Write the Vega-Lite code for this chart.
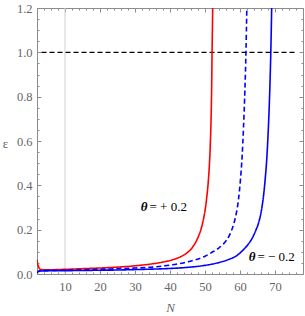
{
  "$schema": "https://vega.github.io/schema/vega-lite/v6.json",
  "width": 266,
  "height": 266,
  "autosize": {"type": "none"},
  "padding": {"left": 37, "top": 8, "right": 2, "bottom": 42},
  "config": {
    "view": {"stroke": null},
    "font": "Liberation Serif",
    "axis": {
      "grid": false,
      "domainColor": "#8c8c8c",
      "tickColor": "#8c8c8c",
      "labelColor": "#666666",
      "labelFont": "Liberation Serif",
      "labelFontSize": 12.5,
      "titleFont": "Liberation Serif",
      "titleColor": "#666666",
      "titleFontWeight": "normal"
    }
  },
  "datasets": {
    "vline": [{"N": 10}],
    "hline": [{"N": 3.3, "N2": 75.7, "e": 1.0}],
    "curves": [
      {"s": "plus", "N": 2.0, "e": 0.065}, {"s": "plus", "N": 2.2, "e": 0.045}, {"s": "plus", "N": 2.5, "e": 0.03},
      {"s": "plus", "N": 2.8, "e": 0.023}, {"s": "plus", "N": 3.2, "e": 0.02}, {"s": "plus", "N": 4, "e": 0.019},
      {"s": "plus", "N": 5, "e": 0.019}, {"s": "plus", "N": 10, "e": 0.021}, {"s": "plus", "N": 15, "e": 0.024},
      {"s": "plus", "N": 20, "e": 0.027}, {"s": "plus", "N": 25, "e": 0.031}, {"s": "plus", "N": 30, "e": 0.037},
      {"s": "plus", "N": 35, "e": 0.046}, {"s": "plus", "N": 38, "e": 0.054}, {"s": "plus", "N": 40, "e": 0.061},
      {"s": "plus", "N": 42, "e": 0.071}, {"s": "plus", "N": 44, "e": 0.086}, {"s": "plus", "N": 45, "e": 0.097},
      {"s": "plus", "N": 46, "e": 0.112}, {"s": "plus", "N": 47, "e": 0.134}, {"s": "plus", "N": 48, "e": 0.165},
      {"s": "plus", "N": 49, "e": 0.21}, {"s": "plus", "N": 49.5, "e": 0.243}, {"s": "plus", "N": 50, "e": 0.285},
      {"s": "plus", "N": 50.5, "e": 0.345}, {"s": "plus", "N": 51, "e": 0.43}, {"s": "plus", "N": 51.3, "e": 0.505},
      {"s": "plus", "N": 51.55, "e": 0.6}, {"s": "plus", "N": 51.75, "e": 0.71}, {"s": "plus", "N": 51.9, "e": 0.84},
      {"s": "plus", "N": 52.02, "e": 1.0}, {"s": "plus", "N": 52.2, "e": 1.2}, {"s": "plus", "N": 52.35, "e": 1.4},
      {"s": "zero", "N": 2.0, "e": 0.007}, {"s": "zero", "N": 2.3, "e": 0.012}, {"s": "zero", "N": 2.8, "e": 0.015},
      {"s": "zero", "N": 4, "e": 0.016}, {"s": "zero", "N": 10, "e": 0.017}, {"s": "zero", "N": 15, "e": 0.019},
      {"s": "zero", "N": 20, "e": 0.021}, {"s": "zero", "N": 25, "e": 0.024}, {"s": "zero", "N": 30, "e": 0.027},
      {"s": "zero", "N": 35, "e": 0.031}, {"s": "zero", "N": 40, "e": 0.04}, {"s": "zero", "N": 44, "e": 0.051},
      {"s": "zero", "N": 47, "e": 0.063}, {"s": "zero", "N": 50, "e": 0.08}, {"s": "zero", "N": 52, "e": 0.098},
      {"s": "zero", "N": 54, "e": 0.118}, {"s": "zero", "N": 55.5, "e": 0.14}, {"s": "zero", "N": 57, "e": 0.175},
      {"s": "zero", "N": 58.1, "e": 0.22}, {"s": "zero", "N": 58.9, "e": 0.27}, {"s": "zero", "N": 59.6, "e": 0.34},
      {"s": "zero", "N": 60.1, "e": 0.42}, {"s": "zero", "N": 60.6, "e": 0.53}, {"s": "zero", "N": 61.0, "e": 0.66},
      {"s": "zero", "N": 61.4, "e": 0.83}, {"s": "zero", "N": 61.7, "e": 1.0}, {"s": "zero", "N": 61.95, "e": 1.2},
      {"s": "zero", "N": 62.1, "e": 1.35},
      {"s": "minus", "N": 2.0, "e": 0.004}, {"s": "minus", "N": 2.3, "e": 0.01}, {"s": "minus", "N": 2.8, "e": 0.013},
      {"s": "minus", "N": 4, "e": 0.014}, {"s": "minus", "N": 10, "e": 0.015}, {"s": "minus", "N": 15, "e": 0.016},
      {"s": "minus", "N": 20, "e": 0.017}, {"s": "minus", "N": 25, "e": 0.018}, {"s": "minus", "N": 30, "e": 0.02},
      {"s": "minus", "N": 35, "e": 0.022}, {"s": "minus", "N": 40, "e": 0.025}, {"s": "minus", "N": 45, "e": 0.03},
      {"s": "minus", "N": 50, "e": 0.039}, {"s": "minus", "N": 54.3, "e": 0.053}, {"s": "minus", "N": 57, "e": 0.067},
      {"s": "minus", "N": 59, "e": 0.082}, {"s": "minus", "N": 61, "e": 0.11}, {"s": "minus", "N": 62.4, "e": 0.135},
      {"s": "minus", "N": 63.6, "e": 0.165}, {"s": "minus", "N": 64.6, "e": 0.2}, {"s": "minus", "N": 65.3, "e": 0.23},
      {"s": "minus", "N": 66.1, "e": 0.285}, {"s": "minus", "N": 66.7, "e": 0.35}, {"s": "minus", "N": 67.15, "e": 0.42},
      {"s": "minus", "N": 67.65, "e": 0.52}, {"s": "minus", "N": 68.05, "e": 0.64}, {"s": "minus", "N": 68.45, "e": 0.8},
      {"s": "minus", "N": 68.8, "e": 1.0}, {"s": "minus", "N": 69.05, "e": 1.2}, {"s": "minus", "N": 69.2, "e": 1.35}
    ],
    "labels": [
      {"N": 33.86, "e": 0.304, "th": "θ", "rest": "= + 0.2"},
      {"N": 64.7, "e": 0.078, "th": "θ", "rest": "= − 0.2"}
    ]
  },
  "layer": [
    {
      "data": {"name": "vline"},
      "mark": {"type": "rule", "color": "#d0d0d0", "strokeWidth": 1},
      "encoding": {
        "x": {
          "field": "N", "type": "quantitative",
          "scale": {"domain": [2, 78], "nice": false, "zero": false},
          "axis": {
            "orient": "bottom", "values": [10, 20, 30, 40, 50, 60, 70],
            "tickSize": -4, "labelPadding": 10, "domain": true,
            "title": "N", "titleFontStyle": "italic", "titleFontSize": 13,
            "titleY": 33, "titleBaseline": "middle"
          }
        }
      }
    },
    {
      "data": {"name": "hline"},
      "mark": {"type": "rule", "color": "#000000", "strokeWidth": 1.3, "strokeDash": [5, 3]},
      "encoding": {
        "x": {
          "field": "N", "type": "quantitative",
          "axis": {
            "orient": "bottom",
            "values": [2,4,6,8,10,12,14,16,18,20,22,24,26,28,30,32,34,36,38,40,42,44,46,48,50,52,54,56,58,60,62,64,66,68,70,72,74,76,78],
            "tickSize": -2, "labels": false, "domain": false, "title": null
          }
        },
        "x2": {"field": "N2"},
        "y": {
          "field": "e", "type": "quantitative",
          "scale": {"domain": [0, 1.2], "nice": false, "zero": false},
          "axis": {
            "orient": "left", "values": [0, 0.2, 0.4, 0.6, 0.8, 1.0, 1.2], "format": ".1f",
            "tickSize": -4, "labelPadding": 9, "domain": true,
            "title": "ε", "titleAngle": 0, "titleX": -32, "titleY": 135,
            "titleAlign": "center", "titleBaseline": "middle", "titleFontSize": 13
          }
        }
      }
    },
    {
      "data": {"name": "curves"},
      "mark": {"type": "line", "strokeWidth": 1.6, "clip": true, "interpolate": "monotone"},
      "encoding": {
        "x": {
          "field": "N", "type": "quantitative",
          "axis": {
            "orient": "top", "values": [10, 20, 30, 40, 50, 60, 70],
            "tickSize": -4, "labels": false, "domain": true, "title": null
          }
        },
        "y": {
          "field": "e", "type": "quantitative",
          "axis": {
            "orient": "left",
            "values": [0,0.05,0.1,0.15,0.2,0.25,0.3,0.35,0.4,0.45,0.5,0.55,0.6,0.65,0.7,0.75,0.8,0.85,0.9,0.95,1.0,1.05,1.1,1.15,1.2],
            "tickSize": -2, "labels": false, "domain": false, "title": null
          }
        },
        "color": {
          "field": "s", "type": "nominal",
          "scale": {"domain": ["plus", "zero", "minus"], "range": ["#ff0000", "#0000ff", "#0000ff"]},
          "legend": null
        },
        "strokeDash": {
          "field": "s", "type": "nominal",
          "scale": {"domain": ["plus", "zero", "minus"], "range": [[1, 0], [5, 3], [1, 0]]},
          "legend": null
        }
      }
    },
    {
      "data": {"name": "labels"},
      "mark": {"type": "text", "font": "Liberation Serif", "fontSize": 13, "fontStyle": "italic", "fontWeight": "bold", "align": "right", "baseline": "middle", "dx": -1, "color": "#000000"},
      "encoding": {
        "x": {
          "field": "N", "type": "quantitative",
          "axis": {
            "orient": "top",
            "values": [2,4,6,8,10,12,14,16,18,20,22,24,26,28,30,32,34,36,38,40,42,44,46,48,50,52,54,56,58,60,62,64,66,68,70,72,74,76,78],
            "tickSize": -2, "labels": false, "domain": false, "title": null
          }
        },
        "y": {
          "field": "e", "type": "quantitative",
          "axis": {
            "orient": "right", "values": [0, 0.2, 0.4, 0.6, 0.8, 1.0, 1.2],
            "tickSize": -4, "labels": false, "domain": true, "title": null
          }
        },
        "text": {"field": "th"}
      }
    },
    {
      "data": {"name": "labels"},
      "mark": {"type": "text", "font": "Liberation Serif", "fontSize": 13, "align": "left", "baseline": "middle", "dx": 1, "color": "#000000"},
      "encoding": {
        "x": {"field": "N", "type": "quantitative", "axis": null},
        "y": {
          "field": "e", "type": "quantitative",
          "axis": {
            "orient": "right",
            "values": [0,0.05,0.1,0.15,0.2,0.25,0.3,0.35,0.4,0.45,0.5,0.55,0.6,0.65,0.7,0.75,0.8,0.85,0.9,0.95,1.0,1.05,1.1,1.15,1.2],
            "tickSize": -2, "labels": false, "domain": false, "title": null
          }
        },
        "text": {"field": "rest"}
      }
    }
  ],
  "resolve": {"axis": {"x": "independent", "y": "independent"}}
}
